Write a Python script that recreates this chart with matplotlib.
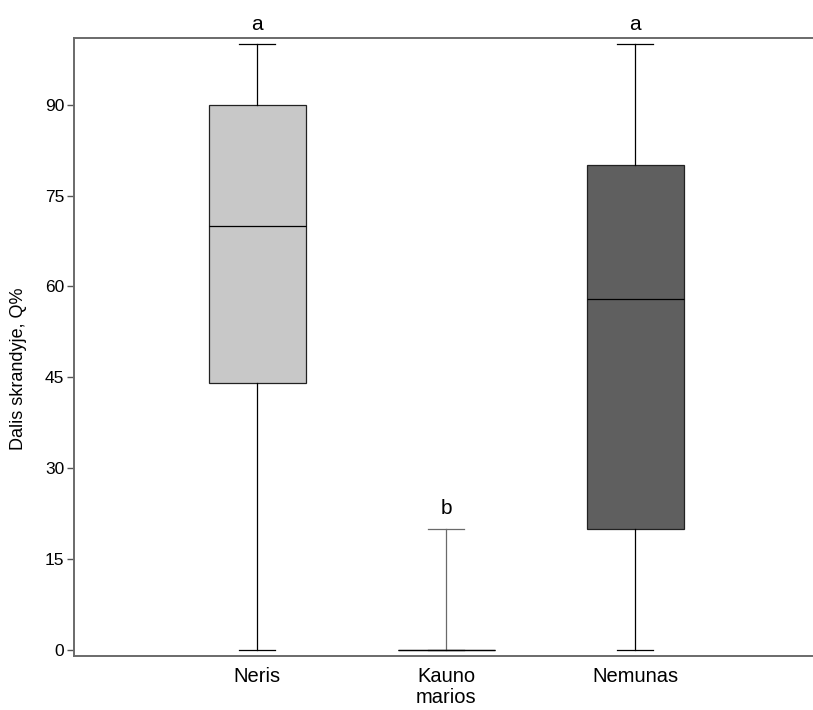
import matplotlib.pyplot as plt

plt.rcParams['font.family'] = ['Liberation Sans', 'DejaVu Sans']

groups = ['Neris', 'Kauno\nmarios', 'Nemunas']
whis_lo = [0, 0, 0]
q1 = [44, 0, 20]
median = [70, 0, 58]
q3 = [90, 0, 80]
whis_hi = [100, 20, 100]
letters = ['a', 'b', 'a']
box_colors = ['#c8c8c8', '#ffffff', '#5f5f5f']
whisker_colors = ['black', '#6a6a6a', 'black']
yticks = [0, 15, 30, 45, 60, 75, 90]

fig = plt.figure(figsize=(8.13, 7.10), dpi=100)
ax = fig.add_axes([0.091, 0.076, 0.909, 0.870])

stats = []
for i in range(len(groups)):
    stats.append(dict(whislo=whis_lo[i], q1=q1[i], med=median[i], q3=q3[i],
                      whishi=whis_hi[i], fliers=[], label=groups[i]))

pos = [1, 2, 3]
bp = ax.bxp(stats, positions=pos, widths=0.51, capwidths=0.19,
            patch_artist=True, showfliers=False,
            boxprops=dict(linewidth=0.9, edgecolor='#222222'),
            medianprops=dict(color='black', linewidth=0.9),
            whiskerprops=dict(linewidth=0.9),
            capprops=dict(linewidth=0.9))

for i, patch in enumerate(bp['boxes']):
    patch.set_facecolor(box_colors[i])
    c = whisker_colors[i]
    for w in bp['whiskers'][2 * i:2 * i + 2]:
        w.set_color(c)
    for cp in bp['caps'][2 * i:2 * i + 2]:
        cp.set_color(c)
bp['caps'][2].set_color('black')
bp['medians'][1].set_color('black')
bp['boxes'][1].set_edgecolor('black')

for i in range(len(groups)):
    ax.text(pos[i], whis_hi[i] + 3.3, letters[i], ha='center', va='center',
            fontsize=15)

ax.set_xlim(0.03, 3.94)
ax.set_ylim(-1.0, 100.95)
ax.set_yticks(yticks)
ax.set_yticklabels([str(v) for v in yticks], fontsize=12.5)
ax.set_xticks(pos)
ax.set_xticklabels(groups, fontsize=14.5, linespacing=1.1)
ax.tick_params(axis='x', length=0, pad=8)
ax.tick_params(axis='y', length=5, width=1, color='#555555', pad=2)
ax.set_ylabel('Dalis skrandyje, Q%', fontsize=13)
ax.yaxis.set_label_coords(-0.064, 0.465)

for s in ['left', 'top', 'bottom']:
    ax.spines[s].set_color('#6a6a6a')
    ax.spines[s].set_linewidth(1.4)
ax.spines['right'].set_visible(False)

fig.savefig('out.png', dpi=100)
